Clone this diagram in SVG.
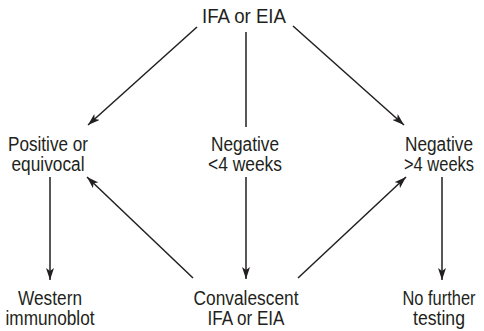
<svg xmlns="http://www.w3.org/2000/svg" width="484" height="331" viewBox="0 0 484 331">
<defs>
<marker id="ah" viewBox="0 0 12 8" refX="12" refY="4" markerWidth="12" markerHeight="8" markerUnits="userSpaceOnUse" orient="auto">
<path d="M0,0 L12,4 L0,8 L3,4 Z" fill="#231f20"/>
</marker>
<style>
text{font-family:"Liberation Sans",Arial,sans-serif;font-size:19.5px;fill:#231f20;text-anchor:middle}
.c line{stroke:#231f20;stroke-width:1.5}
.a{marker-end:url(#ah)}
</style>
</defs>
<rect width="484" height="331" fill="#fff"/>
<g class="c" id="connectors">
<line class="a" x1="197" y1="27" x2="88" y2="125"/>
<line x1="246" y1="32" x2="246" y2="127"/>
<line class="a" x1="293" y1="26" x2="404" y2="125"/>
<line class="a" x1="50" y1="177" x2="50" y2="280"/>
<line class="a" x1="246" y1="177" x2="246" y2="279"/>
<line class="a" x1="442" y1="177" x2="442" y2="280"/>
<line class="a" x1="193" y1="278" x2="87" y2="177"/>
<line class="a" x1="298" y1="278" x2="406" y2="177"/>
</g>
<g id="top"><text x="244" y="23" textLength="84" lengthAdjust="spacingAndGlyphs">IFA or EIA</text></g>
<g id="positive"><text x="48" y="151" textLength="80" lengthAdjust="spacingAndGlyphs">Positive or</text><text x="48" y="171" textLength="73" lengthAdjust="spacingAndGlyphs">equivocal</text></g>
<g id="negless"><text x="245" y="151" textLength="68" lengthAdjust="spacingAndGlyphs">Negative</text><text x="245" y="171" textLength="74" lengthAdjust="spacingAndGlyphs">&lt;4 weeks</text></g>
<g id="neggreater"><text x="439" y="151" textLength="68" lengthAdjust="spacingAndGlyphs">Negative</text><text x="439" y="171" textLength="70" lengthAdjust="spacingAndGlyphs">&gt;4 weeks</text></g>
<g id="western"><text x="50" y="305" textLength="64" lengthAdjust="spacingAndGlyphs">Western</text><text x="50" y="325" textLength="89" lengthAdjust="spacingAndGlyphs">immunoblot</text></g>
<g id="convalescent"><text x="246" y="305" textLength="105" lengthAdjust="spacingAndGlyphs">Convalescent</text><text x="246" y="325" textLength="77" lengthAdjust="spacingAndGlyphs">IFA or EIA</text></g>
<g id="nofurther"><text x="439" y="305" textLength="73" lengthAdjust="spacingAndGlyphs">No further</text><text x="439" y="325" textLength="52" lengthAdjust="spacingAndGlyphs">testing</text></g>
</svg>
